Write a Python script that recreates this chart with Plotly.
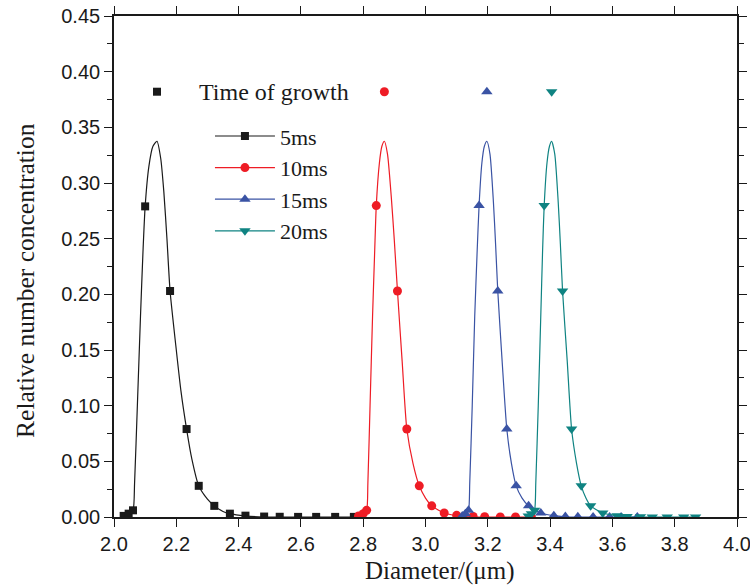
import plotly.graph_objects as go

# ---- data -------------------------------------------------------------
series_names = ["5ms", "10ms", "15ms", "20ms"]
colors = ["#1a1a1a", "#ee1c25", "#3a53a4", "#0f8382"]
symbols = ["square", "circle", "triangle-up", "triangle-down"]
marker_sizes = [8, 9, 10, 10]

# measured points (diameter in um, relative number concentration)
x_5ms = [2.031, 2.047, 2.061, 2.100, 2.180, 2.233, 2.272, 2.322, 2.372, 2.422,
         2.482, 2.532, 2.591, 2.649, 2.710, 2.770]
y_5ms = [0.001, 0.003, 0.006, 0.279, 0.203, 0.079, 0.028, 0.010, 0.003, 0.0012,
         0.0004, 0.0002, 0.0001, 0.0001, 0.0001, 0.0001]

x_10ms = [2.785, 2.800, 2.811, 2.842, 2.910, 2.940, 2.980, 3.020, 3.060, 3.100,
          3.153, 3.190, 3.240, 3.289, 3.340]
y_10ms = [0.001, 0.003, 0.006, 0.2797, 0.203, 0.079, 0.028, 0.010, 0.0036, 0.0015,
          0.0005, 0.0002, 0.0001, 0.0001, 0.0001]

x_15ms = [3.118, 3.128, 3.138, 3.172, 3.232, 3.261, 3.291, 3.331, 3.370, 3.412,
          3.449, 3.489, 3.538, 3.591, 3.628, 3.680]
y_15ms = [0.001, 0.003, 0.006, 0.2797, 0.203, 0.079, 0.028, 0.010, 0.0036, 0.0012,
          0.0004, 0.0002, 0.0001, 0.0001, 0.0001, 0.0001]

x_20ms = [3.330, 3.340, 3.350, 3.381, 3.440, 3.469, 3.500, 3.530, 3.569, 3.615,
          3.647, 3.690, 3.728, 3.776, 3.829, 3.867]
y_20ms = [0.001, 0.003, 0.006, 0.2797, 0.203, 0.079, 0.028, 0.010, 0.0036, 0.0012,
          0.0004, 0.0002, 0.0001, 0.0001, 0.0001, 0.0001]

# fitted distribution curves
fit_x_5ms = [2.020, 2.031, 2.047, 2.061, 2.066, 2.075, 2.085, 2.093, 2.100, 2.112,
             2.125, 2.138, 2.150, 2.160, 2.170, 2.180, 2.200, 2.215, 2.233, 2.250,
             2.272, 2.300, 2.322, 2.350, 2.372, 2.420, 2.480, 2.770]
fit_y_5ms = [0.000, 0.001, 0.003, 0.006, 0.030, 0.100, 0.180, 0.238, 0.279, 0.315,
             0.333, 0.3375, 0.322, 0.292, 0.250, 0.203, 0.150, 0.113, 0.079, 0.052,
             0.028, 0.016, 0.010, 0.005, 0.003, 0.001, 0.000, 0.000]

fit_x_10ms = [2.780, 2.800, 2.811, 2.815, 2.822, 2.830, 2.837, 2.842, 2.852, 2.860,
              2.868, 2.878, 2.890, 2.900, 2.910, 2.925, 2.940, 2.960, 2.980, 3.000,
              3.020, 3.060, 3.100, 3.150, 3.340]
fit_y_10ms = [0.000, 0.003, 0.006, 0.030, 0.100, 0.180, 0.240, 0.2797, 0.318, 0.333,
              0.3375, 0.326, 0.288, 0.248, 0.203, 0.140, 0.079, 0.048, 0.028, 0.017,
              0.010, 0.0036, 0.0012, 0.000, 0.000]

fit_x_15ms = [3.110, 3.128, 3.138, 3.142, 3.150, 3.158, 3.166, 3.172, 3.181, 3.189,
              3.197, 3.207, 3.218, 3.225, 3.232, 3.246, 3.261, 3.276, 3.291, 3.310,
              3.331, 3.370, 3.412, 3.460, 3.680]
fit_y_15ms = [0.000, 0.003, 0.006, 0.030, 0.100, 0.180, 0.240, 0.2797, 0.318, 0.333,
              0.3375, 0.326, 0.283, 0.245, 0.203, 0.140, 0.079, 0.048, 0.028, 0.017,
              0.010, 0.0036, 0.0012, 0.000, 0.000]

fit_x_20ms = [3.325, 3.340, 3.350, 3.354, 3.362, 3.370, 3.376, 3.381, 3.390, 3.398,
              3.405, 3.415, 3.426, 3.433, 3.440, 3.455, 3.469, 3.485, 3.500, 3.515,
              3.530, 3.569, 3.615, 3.660, 3.867]
fit_y_20ms = [0.000, 0.003, 0.006, 0.030, 0.100, 0.180, 0.240, 0.2797, 0.318, 0.333,
              0.3375, 0.326, 0.283, 0.245, 0.203, 0.140, 0.079, 0.048, 0.028, 0.017,
              0.010, 0.0036, 0.0012, 0.000, 0.000]

# row of growth-time markers above the peaks
peak_x = [2.138, 2.868, 3.197, 3.405]
label_level = 0.382
label_text = "Time of growth"
label_x = 2.515

x_title = "Diameter/(μm)"
y_title = "Relative number concentration"
x_tick_vals = [2.0, 2.2, 2.4, 2.6, 2.8, 3.0, 3.2, 3.4, 3.6, 3.8, 4.0]
y_tick_vals = [0.00, 0.05, 0.10, 0.15, 0.20, 0.25, 0.30, 0.35, 0.40, 0.45]

points = [(x_5ms, y_5ms), (x_10ms, y_10ms), (x_15ms, y_15ms), (x_20ms, y_20ms)]
fits = [(fit_x_5ms, fit_y_5ms), (fit_x_10ms, fit_y_10ms),
        (fit_x_15ms, fit_y_15ms), (fit_x_20ms, fit_y_20ms)]

SERIF = "Liberation Serif"
SANS = "Liberation Sans"
INK = "#1a1a1a"

fig = go.Figure()

for i, name in enumerate(series_names):
    col, sym, ms = colors[i], symbols[i], marker_sizes[i]
    fx, fy = fits[i]
    px, py = points[i]
    fig.add_trace(go.Scatter(
        x=fx, y=fy, mode="lines",
        line=dict(color=col, width=1.2, shape="spline", smoothing=0.6),
        showlegend=False, legendgroup=name, hoverinfo="skip"))
    fig.add_trace(go.Scatter(
        x=px, y=py, mode="markers",
        marker=dict(symbol=sym, size=ms, color=col, line=dict(width=0)),
        showlegend=False, legendgroup=name, name=name))
    # legend entry (line + symbol)
    fig.add_trace(go.Scatter(
        x=[None], y=[None], mode="lines+markers", name=name, legendgroup=name,
        line=dict(color=col, width=1.2),
        marker=dict(symbol=sym, size=ms, color=col, line=dict(width=0))))
    # growth-time marker placed above the peak
    fig.add_trace(go.Scatter(
        x=[peak_x[i]], y=[label_level], mode="markers",
        marker=dict(symbol=sym, size=ms, color=col, line=dict(width=0)),
        showlegend=False, hoverinfo="skip"))

fig.add_annotation(x=label_x, y=label_level, text=label_text, showarrow=False,
                   xanchor="center", yanchor="middle",
                   font=dict(family=SERIF, size=24, color=INK))

# axis titles
fig.add_annotation(xref="paper", yref="paper", x=0.522, y=-0.108,
                   text=x_title, showarrow=False, xanchor="center", yanchor="middle",
                   font=dict(family=SERIF, size=25, color=INK))
fig.add_annotation(xref="paper", yref="paper", x=-0.143, y=0.473,
                   text=y_title, showarrow=False, textangle=-90,
                   xanchor="center", yanchor="middle",
                   font=dict(family=SERIF, size=25.5, color=INK))

axis_common = dict(
    showline=True, linecolor=INK, linewidth=1.6, mirror="ticks",
    ticks="outside", ticklen=8, tickwidth=1.4, tickcolor=INK,
    showgrid=False, zeroline=False, automargin=False,
    ticklabeloverflow="allow",
    tickfont=dict(family=SANS, size=20, color=INK),
)

fig.update_xaxes(range=[2.0, 4.0], tickvals=x_tick_vals, tickformat=".1f",
                 **axis_common)
fig.update_yaxes(
    range=[0, 0.45], tickvals=y_tick_vals, tickformat=".2f",
    minor=dict(dtick=0.025, ticks="outside", ticklen=5, tickwidth=1.2,
               tickcolor=INK),
    **axis_common)

fig.update_layout(
    width=750, height=587,
    margin=dict(l=114, r=13, t=16, b=70),
    paper_bgcolor="white", plot_bgcolor="white",
    legend=dict(x=0.154, y=0.802, xanchor="left", yanchor="top",
                bgcolor="rgba(0,0,0,0)", itemwidth=60, tracegroupgap=0,
                font=dict(family=SERIF, size=22, color=INK)),
)

fig.write_html("out.html")
